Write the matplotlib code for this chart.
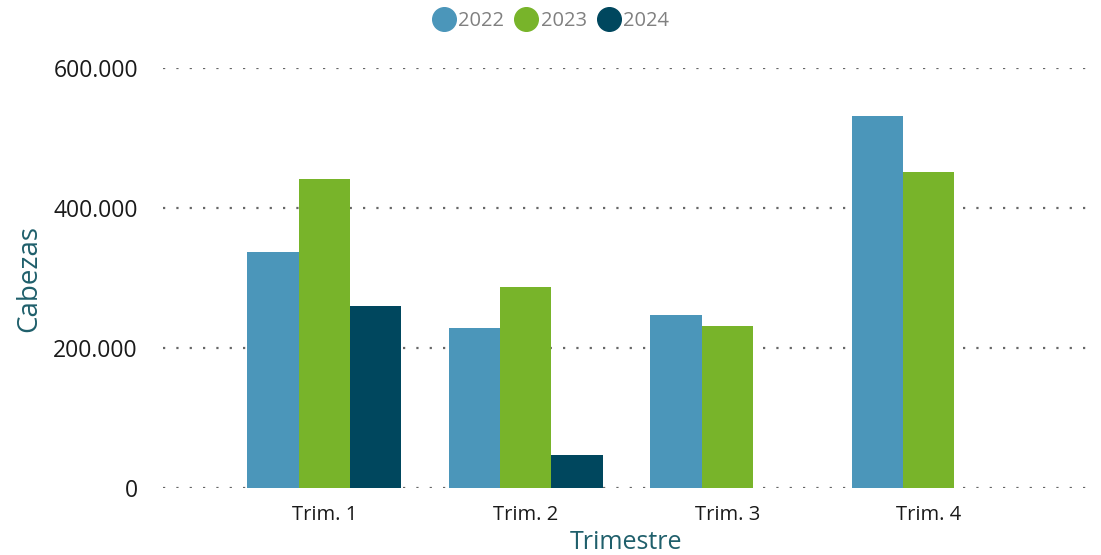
import matplotlib
matplotlib.use('Agg')
import matplotlib.pyplot as plt
from matplotlib.lines import Line2D
import numpy as np

# data
trimestres = ['Trim. 1', 'Trim. 2', 'Trim. 3', 'Trim. 4']
anios = ['2022', '2023', '2024']
v2022 = [337000, 229000, 247000, 531000]
v2023 = [441000, 287000, 231000, 451000]
v2024 = [260000, 47000, np.nan, np.nan]
series = [v2022, v2023, v2024]
colores = ['#4B96BA', '#78B42A', '#00475E']

plt.rcParams['font.family'] = ['Open Sans', 'DejaVu Sans']

fig = plt.figure(figsize=(11.01, 5.55), dpi=100)
ax = fig.add_axes([163/1101, 1-488/555, (1090-163)/1101, (488-68)/555])

x = np.arange(len(trimestres))
w = 0.255
for i, vals in enumerate(series):
    ax.bar(x + (i-1)*w, vals, width=w, color=colores[i], zorder=3)

ax.set_ylim(0, 600000)
ax.set_xlim(-0.8, 3.8)
ax.set_yticks([0, 200000, 400000, 600000])
ax.set_yticklabels(['0', '200.000', '400.000', '600.000'], fontsize=16.5, color='#1a1a1a')
ax.set_xticks(x)
ax.set_xticklabels(trimestres, fontsize=14.5, color='#1a1a1a')
ax.tick_params(axis='both', length=0)
ax.tick_params(axis='y', pad=18)
ax.tick_params(axis='x', pad=12)

ax.grid(axis='y', color='#666666', linestyle=(0, (1, 5)), linewidth=1.6, zorder=0)
for s in ax.spines.values():
    s.set_visible(False)

ax.set_ylabel('Cabezas', fontsize=20, color='#1F5F6B', labelpad=7)
ax.set_xlabel('Trimestre', fontsize=18, color='#1F5F6B', labelpad=4)

handles = [Line2D([0], [0], marker='o', linestyle='', markersize=17,
                  markerfacecolor=c, markeredgecolor=c) for c in colores]
fig.legend(handles, anios, loc='upper center', bbox_to_anchor=(0.5, 1.013), ncol=3,
           frameon=False, fontsize=14.5, labelcolor='#808080', handletextpad=0.1,
           columnspacing=0.5, handlelength=1.2)

fig.savefig('out.png', dpi=100)
